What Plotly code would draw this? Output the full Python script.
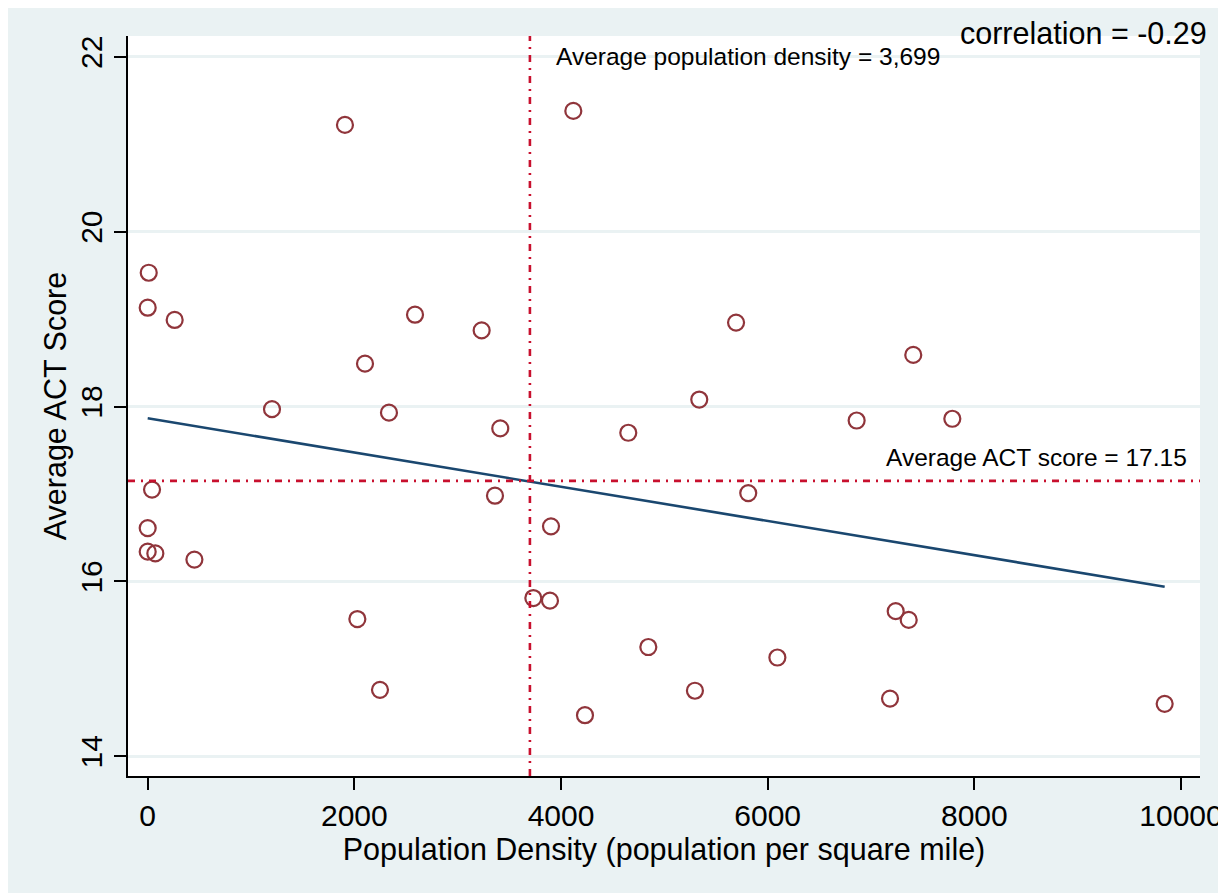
import plotly.graph_objects as go

# ---- data ----
density = [1909, 4119, 10, 0, 261, 2587, 3232, 5694, 7409, 2103,
           5338, 1203, 2335, 3412, 4651, 6861, 7787, 42, 3361, 5812,
           0, 3903, 0, 74, 452, 3732, 3893, 2029, 7239, 7365,
           4845, 6094, 2248, 5296, 7184, 9842, 4232]
act_score = [21.22, 21.38, 19.53, 19.13, 18.99, 19.05, 18.87, 18.96, 18.59, 18.49,
             18.08, 17.97, 17.93, 17.75, 17.70, 17.84, 17.86, 17.05, 16.98, 17.01,
             16.61, 16.63, 16.34, 16.32, 16.25, 15.81, 15.78, 15.57, 15.66, 15.56,
             15.25, 15.13, 14.76, 14.75, 14.66, 14.60, 14.47]
fit_x = [0, 9842]
fit_y = [17.865, 15.94]
mean_density = 3699
mean_act = 17.15
correlation = -0.29
x_ticks = [0, 2000, 4000, 6000, 8000, 10000]
y_ticks = [14, 16, 18, 20, 22]

FONT = "Arial, Liberation Sans, sans-serif"
BG = "#EAF2F3"
MAROON = "#90353B"
NAVY = "#1A476F"
RED = "#C8102E"

fig = go.Figure()
fig.add_trace(go.Scatter(
    x=density, y=act_score, mode="markers",
    marker=dict(symbol="circle-open", size=16, color=MAROON, line=dict(width=2.2, color=MAROON)),
    showlegend=False, hoverinfo="skip"))
fig.add_trace(go.Scatter(
    x=fit_x, y=fit_y, mode="lines",
    line=dict(color=NAVY, width=2.6), showlegend=False, hoverinfo="skip"))

# mean reference lines
fig.add_shape(type="line", xref="x", yref="paper", x0=mean_density, x1=mean_density, y0=0, y1=1,
              line=dict(color=RED, width=2.6, dash="7px,6px,2px,6px"))
fig.add_shape(type="line", xref="paper", yref="y", x0=0, x1=1, y0=mean_act, y1=mean_act,
              line=dict(color=RED, width=2.6, dash="7px,6px,2px,6px"))

fig.add_annotation(x=mean_density, y=22.0, xref="x", yref="y", xanchor="left", yanchor="middle",
                   xshift=24, text=f"Average population density = {mean_density:,}",
                   showarrow=False, font=dict(family=FONT, size=24.5, color="black"))
fig.add_annotation(x=(1189 - 128) / 1072, y=mean_act, xref="paper", yref="y", xanchor="right",
                   yanchor="middle", yshift=23, text=f"Average ACT score = {mean_act}",
                   showarrow=False, font=dict(family=FONT, size=24.5, color="black"))
fig.add_annotation(x=(1209 - 128) / 1072, y=(776 - 33) / 740, xref="paper", yref="paper",
                   xanchor="right", yanchor="middle", text=f"correlation = {correlation}",
                   showarrow=False, font=dict(family=FONT, size=30.5, color="black"))

fig.update_layout(
    width=1218, height=885,
    margin=dict(l=120, r=26, t=28, b=117, autoexpand=False),
    paper_bgcolor=BG, plot_bgcolor="white",
    font=dict(family=FONT, color="black"),
    xaxis=dict(range=[-190.6, 10184], tickvals=x_ticks, ticktext=[str(v) for v in x_ticks],
               showgrid=False, zeroline=False, showline=True, linecolor="black", linewidth=1.5,
               ticks="outside", ticklen=12, tickwidth=1.5, tickcolor="black",
               tickfont=dict(size=30, family=FONT), automargin=False,
               title=dict(text="Population Density (population per square mile)",
                          font=dict(size=30.5, family=FONT), standoff=0)),
    yaxis=dict(range=[13.775, 22.237], tickvals=y_ticks, ticktext=[str(v) for v in y_ticks],
               showgrid=True, gridcolor=BG, gridwidth=2.5, zeroline=False,
               showline=True, linecolor="black", linewidth=1.5,
               ticks="outside", ticklen=12, tickwidth=1.5, tickcolor="black",
               tickangle=-90, tickfont=dict(size=30, family=FONT), automargin=False,
               title=dict(text="Average ACT Score", font=dict(size=30.5, family=FONT), standoff=0)),
)

fig.write_html("out.html")
